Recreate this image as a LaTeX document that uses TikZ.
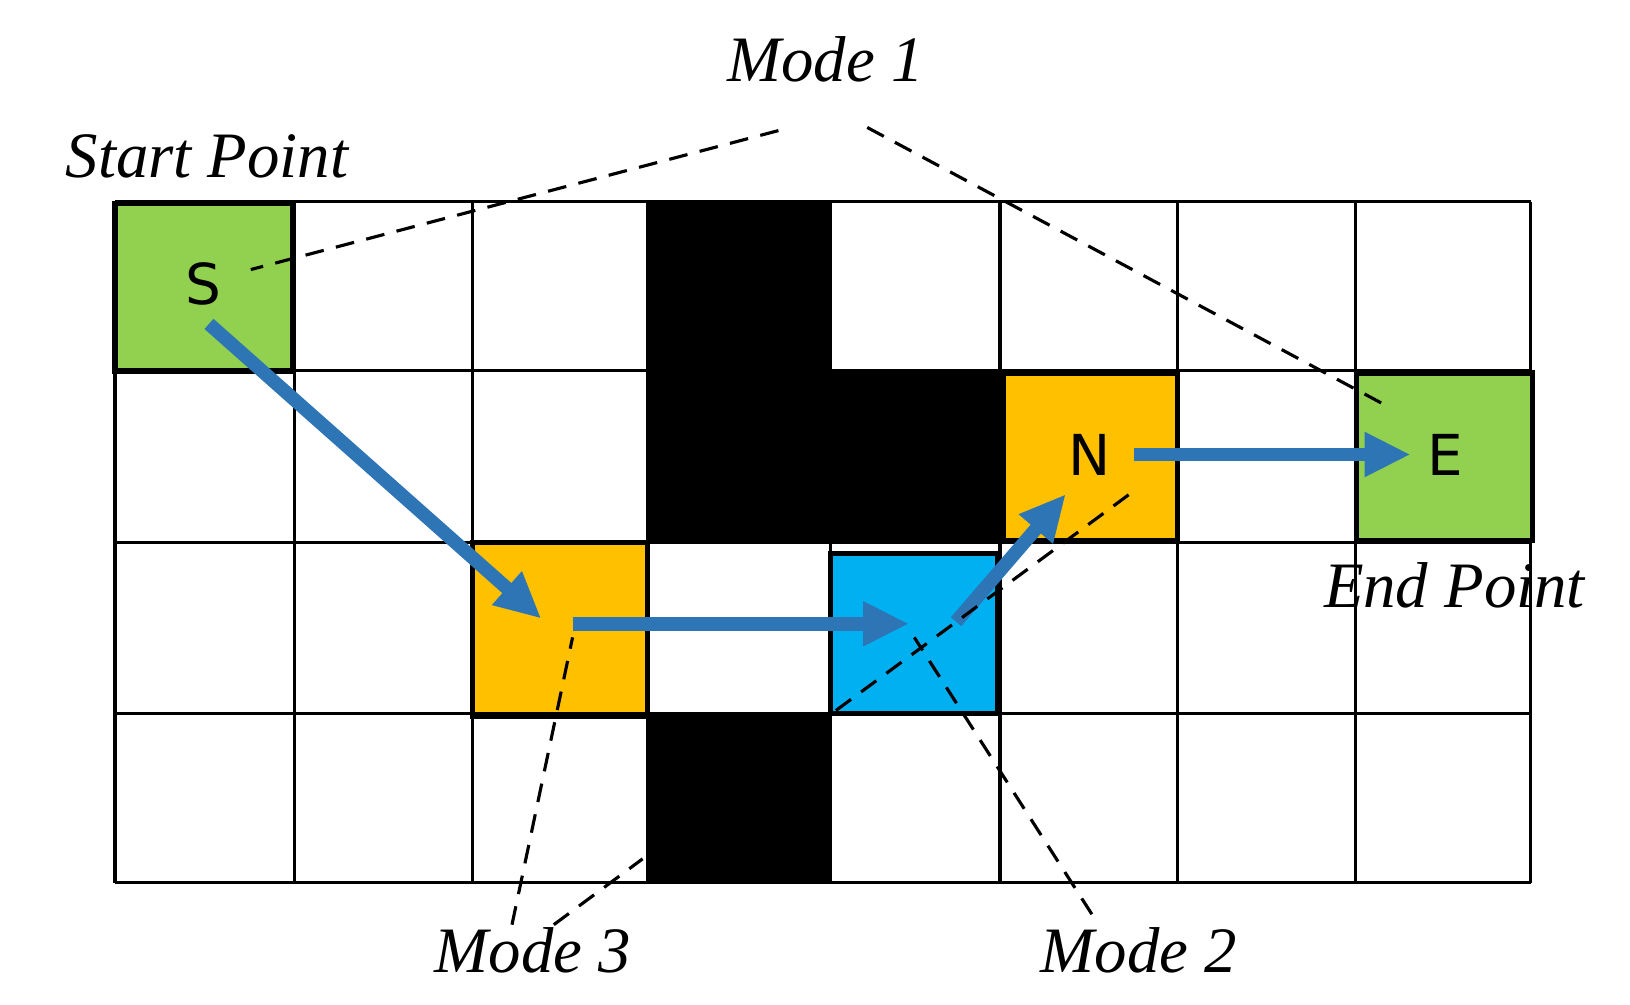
\documentclass[tikz,border=0pt]{standalone}
\usepackage{fontspec}
\setmainfont{Liberation Serif}
\newfontfamily\sansf{DejaVu Sans}
\definecolor{gr}{HTML}{92D050}\definecolor{og}{HTML}{FFC000}\definecolor{cy}{HTML}{00B0F0}\definecolor{ar}{HTML}{2E75B6}
\begin{document}
\begin{tikzpicture}[x=0.5pt,y=-0.5pt,
 lab/.style={font=\fontsize{31}{36}\selectfont\itshape},
 let/.style={font=\sansf\fontsize{27}{32}\selectfont},
 arr/.style={ar,line width=6.5pt,-{Triangle[length=22pt,width=20pt]}},
 dsh/.style={black,line width=1.5pt,dash pattern=on 9pt off 6pt}]
\usetikzlibrary{arrows.meta}
\useasboundingbox (0,0) rectangle (1560,961);
\fill[black] (620,193) rectangle (795,519);
\fill[black] (795,355) rectangle (957,519);
\fill[black] (620,683) rectangle (795,845);
\fill[og] (452,519) rectangle (620,683);
\fill[cy] (795,530) rectangle (957,683);
\foreach \x in {110,282,452,620,795,957,1127,1297,1465} \draw[line width=1.5pt] (\x,193)--(\x,845);
\foreach \y in {193,355,519,683,845} \draw[line width=1.5pt] (110,\y)--(1465,\y);
\draw[line width=2.5pt,fill=gr] (110,195) rectangle (280,355);
\draw[line width=2.5pt,fill=og] (960,357) rectangle (1127,517);
\draw[line width=2.5pt,fill=gr] (1298,357) rectangle (1467,517);
\draw[line width=2.5pt] (452,519) rectangle (620,686);
\draw[line width=2.5pt] (795,530) rectangle (955,683);
\node[let] (S) at (195,272) {S};
\node[let] (N) at (1043,435) {N};
\node[let] (E) at (1383,435) {E};
\coordinate (o1) at (518,592);
\coordinate (b1) at (870,597);
\draw[arr] (200,310) -- (o1);
\draw[arr] (548,597) -- (b1);
\draw[arr] (915,595) -- (1020,473);
\draw[arr] (1085,435) -- (1350,435);
\node[lab] (m1) at (790,57) {Mode 1};
\node[lab] (sp) at (198,150) {Start Point};
\node[lab] (ep) at (1392,560) {End Point};
\node[lab] (m3) at (510,910) {Mode 3};
\node[lab] (m2) at (1090,910) {Mode 2};
\draw[dsh] (745,125) -- (240,258);
\draw[dsh] (830,122) -- (1330,390);
\draw[dsh] (490,885) -- (548,610);
\draw[dsh] (530,885) -- (615,822);
\draw[dsh] (1045,875) -- (875,610);
\draw[dsh] (800,680) -- (1085,470);
\end{tikzpicture}
\end{document}
